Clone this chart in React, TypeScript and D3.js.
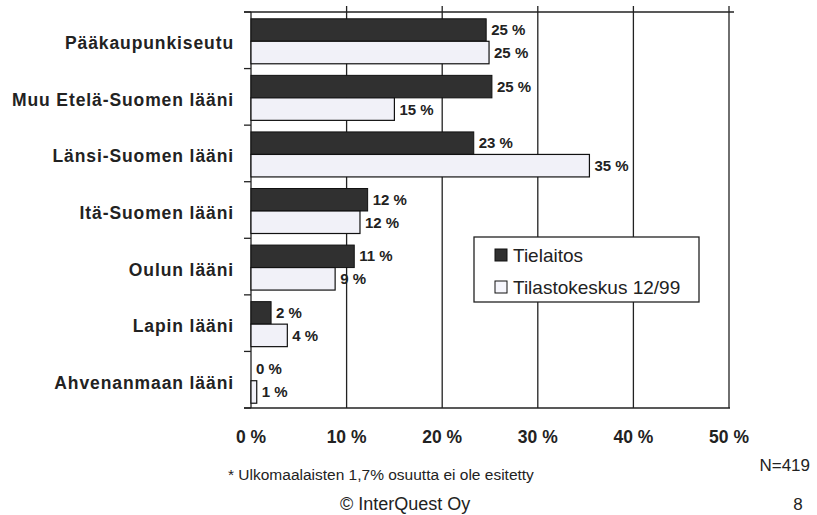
import React from "react";
import * as d3 from "d3";

const categories = [
  "Pääkaupunkiseutu",
  "Muu Etelä-Suomen lääni",
  "Länsi-Suomen lääni",
  "Itä-Suomen lääni",
  "Oulun lääni",
  "Lapin lääni",
  "Ahvenanmaan lääni",
];
const tielaitos = [24.6, 25.2, 23.3, 12.2, 10.8, 2.1, 0];
const tilastokeskus = [24.9, 15.0, 35.4, 11.4, 8.8, 3.8, 0.6];
const tielaitosLabels = ["25 %", "25 %", "23 %", "12 %", "11 %", "2 %", "0 %"];
const tilastoLabels = ["25 %", "15 %", "35 %", "12 %", "9 %", "4 %", "1 %"];
const xTicks = [0, 10, 20, 30, 40, 50];
const seriesNames = ["Tielaitos", "Tilastokeskus 12/99"];

export default function App() {
  const W = 817, H = 515;
  const left = 251, right = 729, top = 12, bottom = 408;
  const x = d3.scaleLinear().domain([0, 50]).range([left, right]);
  const y = d3.scaleBand<string>().domain(categories).range([top, bottom]).paddingInner(0).paddingOuter(0);
  const bw = y.bandwidth();
  const barH = 22.5;
  const dark = "#303030";
  const light = "#f1f1f8";
  const font = "Arial, 'Liberation Sans', Helvetica, sans-serif";
  const boundaries = [...categories.map((c) => y(c)!), bottom];

  return (
    <svg width={W} height={H} style={{ position: "absolute", left: 0, top: 0, background: "#fff" }} fontFamily={font}>
      <rect x={0} y={0} width={W} height={H} fill="#fff" />
      {/* gridlines */}
      {xTicks.map((t) => (
        <line key={"g" + t} x1={x(t)} x2={x(t)} y1={t === 0 ? top : top - 6} y2={bottom} stroke="#222" strokeWidth={1.3} />
      ))}
      {/* top and bottom */}
      <line x1={left - 7} x2={right + 5} y1={top} y2={top} stroke="#222" strokeWidth={1.3} />
      <line x1={left - 7} x2={right + 1} y1={bottom} y2={bottom} stroke="#222" strokeWidth={1.3} />
      {/* left ticks */}
      {boundaries.map((b, i) => (
        <line key={"lt" + i} x1={left - 7} x2={left} y1={b} y2={b} stroke="#222" strokeWidth={1.3} />
      ))}
      {/* bars */}
      {categories.map((c, i) => {
        const c0 = y(c)! + bw / 2 + 1;
        return (
          <g key={c}>
            {tielaitos[i] > 0 && (
              <rect x={x(0)} y={c0 - barH} width={x(tielaitos[i]) - x(0)} height={barH} fill={dark} stroke="#111" strokeWidth={1} />
            )}
            <rect x={x(0)} y={c0} width={x(tilastokeskus[i]) - x(0)} height={barH} fill={light} stroke="#111" strokeWidth={1.2} />
            <text x={x(tielaitos[i]) + 5} y={c0 - barH / 2 + 5} fontSize={15} fontWeight="bold" fill="#222">
              {tielaitosLabels[i]}
            </text>
            <text x={x(tilastokeskus[i]) + 5} y={c0 + barH / 2 + 5.5} fontSize={15} fontWeight="bold" fill="#222">
              {tilastoLabels[i]}
            </text>
            <text x={234} y={c0 + 8} fontSize={17.5} fontWeight="bold" letterSpacing={0.9} textAnchor="end" fill="#222">
              {c}
            </text>
          </g>
        );
      })}
      {/* x tick labels */}
      {xTicks.map((t) => (
        <text key={"xl" + t} x={x(t)} y={443} fontSize={17.5} fontWeight="bold" textAnchor="middle" fill="#222">
          {t} %
        </text>
      ))}
      {/* legend */}
      <rect x={474} y={237} width={225} height={65} fill="#fff" stroke="#222" strokeWidth={1.3} />
      <rect x={495} y={249} width={12} height={12} fill={dark} stroke="#111" />
      <text x={513} y={262} fontSize={19} fill="#222">{seriesNames[0]}</text>
      <rect x={495} y={281} width={12} height={12} fill="#f6f6fc" stroke="#111" />
      <text x={513} y={294} fontSize={19} fill="#222">{seriesNames[1]}</text>
      {/* footnotes */}
      <text x={228} y={480} fontSize={15.5} fill="#222">* Ulkomaalaisten 1,7% osuutta ei ole esitetty</text>
      <text x={810} y={471} fontSize={17} textAnchor="end" fill="#222">N=419</text>
      <text x={340} y={510} fontSize={18} fill="#222">© InterQuest Oy</text>
      <text x={798} y={510} fontSize={17} textAnchor="middle" fill="#222">8</text>
    </svg>
  );
}
